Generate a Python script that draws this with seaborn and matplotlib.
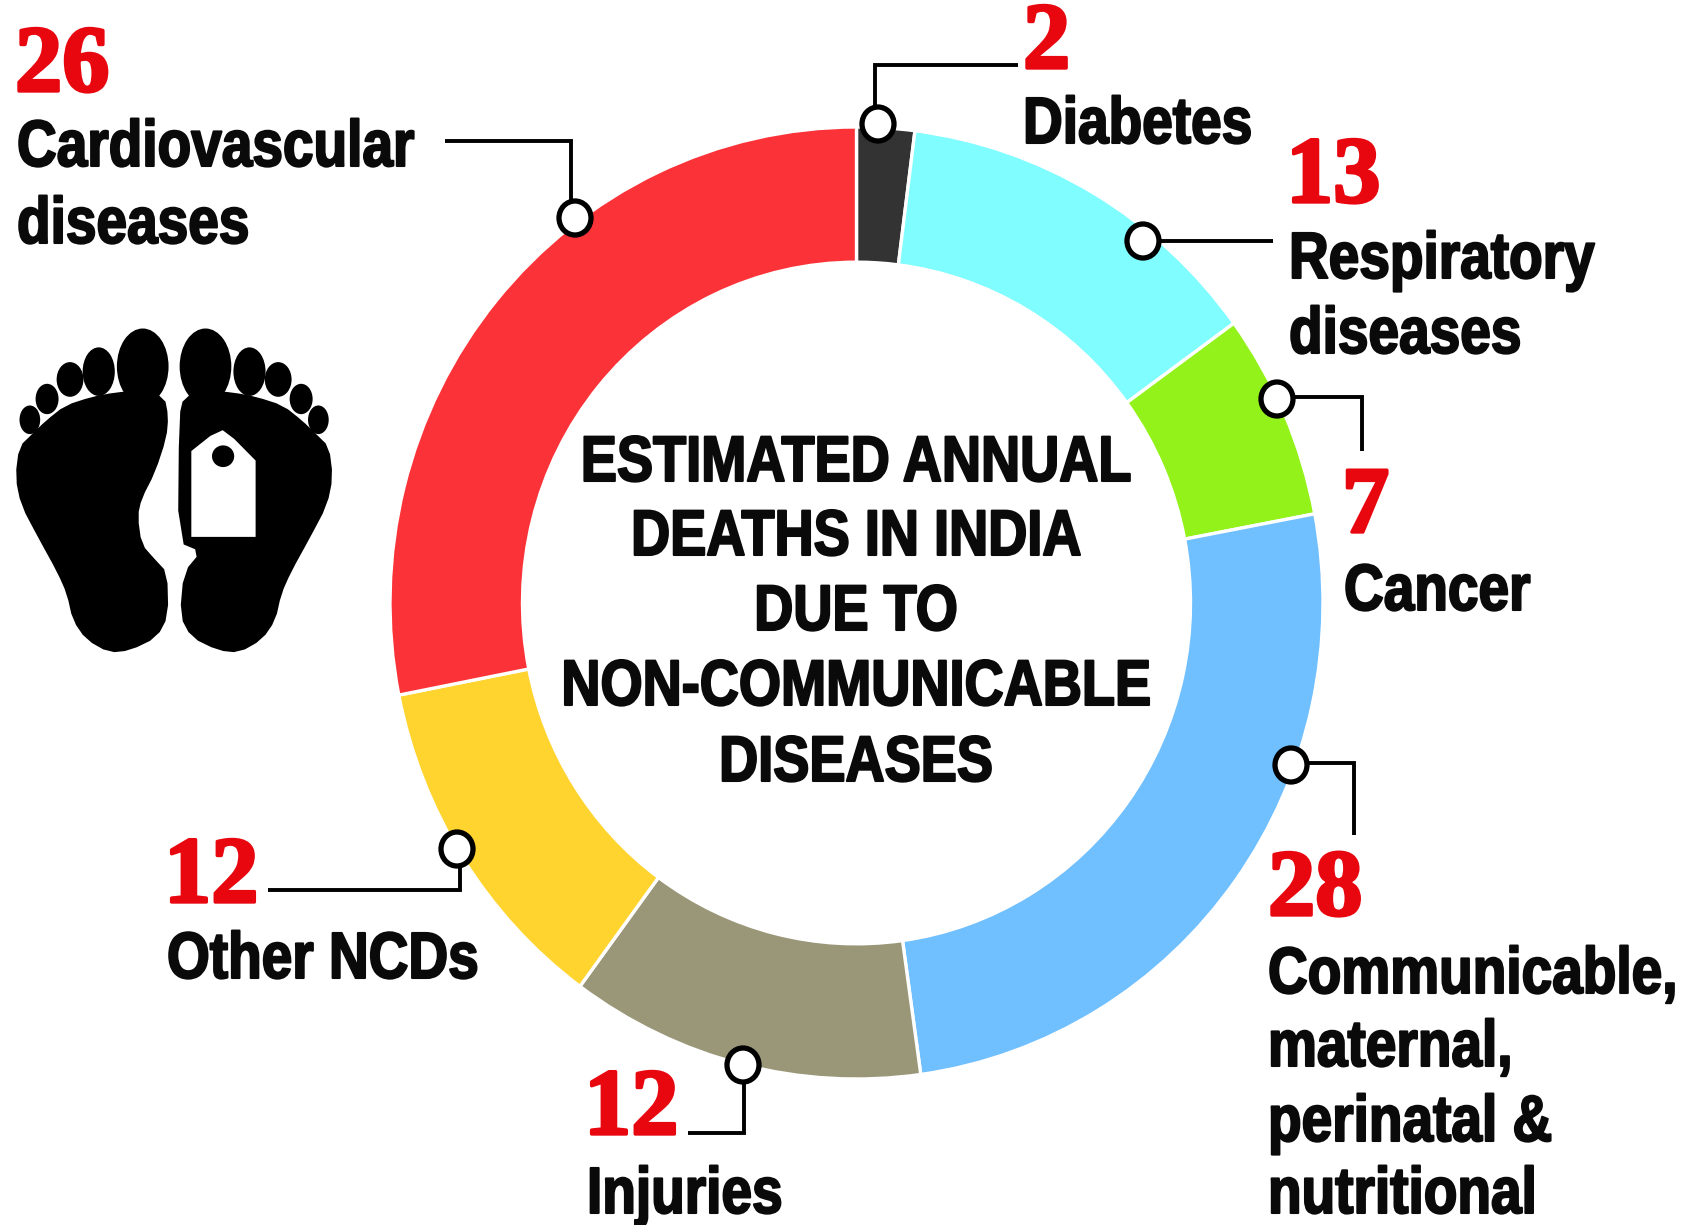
import numpy as np
import matplotlib
matplotlib.use("Agg")
import matplotlib.pyplot as plt
import matplotlib.patheffects as pe
from matplotlib.patches import Ellipse, Polygon
from matplotlib.transforms import Affine2D
import seaborn as sns

# printed values and their labels
categories = ["Diabetes", "Respiratory\ndiseases", "Cancer",
              "Communicable,\nmaternal,\nperinatal &\nnutritional",
              "Injuries", "Other NCDs", "Cardiovascular\ndiseases"]
printed_values = [2, 13, 7, 28, 12, 12, 26]
# sizes of the arcs as actually drawn in the ring
arc_shares = [2.0, 13.0, 7.0, 25.8, 12.3, 11.8, 28.1]
ring_colors = ["#333333", "#80FDFF", "#92F219", "#70BFFF", "#9A9779", "#FFD42F", "#FB3338"]
center_lines = ["ESTIMATED ANNUAL", "DEATHS IN INDIA", "DUE TO",
                "NON-COMMUNICABLE", "DISEASES"]

W, H = 1689, 1225
sns.set_theme(style="white")
plt.rcParams["font.family"] = ["Liberation Sans", "DejaVu Sans"]
fig = plt.figure(figsize=(W / 100, H / 100), dpi=100, facecolor="white")

# ring
L, R, T, B = 390, 1323, 127, 1079
ax = fig.add_axes([L / W, 1 - B / H, (R - L) / W, (B - T) / H])
ax.pie(arc_shares, colors=sns.color_palette(ring_colors), startangle=90, counterclock=False,
       radius=1, wedgeprops=dict(width=0.284, edgecolor="white", linewidth=2.4))
ax.set_aspect("auto")
ax.set_xlim(-1, 1)
ax.set_ylim(-1, 1)
ax.axis("off")

# overlay in pixel space for the annotations
ov = fig.add_axes([0, 0, 1, 1], facecolor="none")
ov.set_xlim(0, W)
ov.set_ylim(H, 0)
ov.axis("off")


class TallStroke(pe.AbstractPathEffect):
    """Draws glyphs stretched upward from the baseline, giving a condensed look."""

    def __init__(self, stretch, lw, color):
        super().__init__()
        self.stretch, self.lw, self.color = stretch, lw, color

    def draw_path(self, renderer, gc, tpath, affine, rgbFace):
        gc0 = renderer.new_gc()
        gc0.copy_properties(gc)
        gc0.set_linewidth(self.lw)
        gc0.set_foreground(self.color)
        renderer.draw_path(gc0, tpath, Affine2D().scale(1, self.stretch) + affine, rgbFace)
        gc0.restore()


RED = "#E8060F"
INK = "#0a0a0a"
num_fx = [pe.withStroke(linewidth=2.4, foreground=RED)]
lab_fx = [TallStroke(1.19, 1.5, INK)]


def number(x, y, s):
    ov.text(x, y, s, color=RED, fontsize=68, fontweight="bold", family="Liberation Serif",
            va="baseline", ha="left", path_effects=num_fx)


def label(x, y, s):
    ov.text(x, y, s, color=INK, fontsize=39.6, fontweight="bold",
            va="baseline", ha="left", path_effects=lab_fx)


# number x, number baseline, label x, one baseline per label line
placements = [
    (1023, 68, 1023, [143]),
    (1286, 202, 1289, [278, 353]),
    (1342, 532, 1344, [610]),
    (1268, 915, 1268, [993, 1066, 1141, 1213]),
    (584, 1134, 587, [1213]),
    (164, 902, 167, [978]),
    (15, 91, 17, [166, 243]),
]
for cat, val, (nx, ny, lx, bases) in zip(categories, printed_values, placements):
    number(nx, ny, str(val))
    for line, by in zip(cat.split("\n"), bases):
        label(lx, by, line)

for line, by in zip(center_lines, [481, 555, 630, 705, 781]):
    ov.text(856, by, line, color=INK, fontsize=39, fontweight="bold", ha="center",
            va="baseline", path_effects=lab_fx)

# leader lines with ring markers
leaders = [
    ([1018, 875, 875], [65, 65, 124], (878, 124)),
    ([1273, 1143], [241, 241], (1143, 241)),
    ([1362, 1362, 1277], [451, 397, 397], (1277, 399)),
    ([1354, 1354, 1291], [835, 763, 763], (1291, 765)),
    ([688, 744, 744], [1133, 1133, 1065], (743, 1065)),
    ([268, 460, 460], [890, 890, 849], (457, 849)),
    ([445, 571, 571], [141, 141, 218], (575, 218)),
]
for xs, ys, (cx, cy) in leaders:
    ov.plot(xs, ys, color="black", lw=2.8, solid_joinstyle="miter", solid_capstyle="butt", zorder=3)
    ov.add_patch(Ellipse((cx, cy), 32, 34, facecolor="white", edgecolor="black", lw=3.8, zorder=4))

# footprints icon
SX, SY = 600 / 1568, 680 / 1568


def smooth(pts, n=1):
    p = np.asarray(pts, float)
    for _ in range(n):
        q = np.roll(p, -1, axis=0)
        p = np.column_stack([0.75 * p + 0.25 * q, 0.25 * p + 0.75 * q]).reshape(-1, 2)
    return p * [SX, SY]


left_sole = [(430, 915), (440, 960), (435, 1010), (405, 1090), (370, 1150), (360, 1190), (370, 1255),
             (405, 1290), (437, 1320), (440, 1420), (410, 1470), (340, 1500), (285, 1505), (225, 1475),
             (190, 1430), (175, 1370), (150, 1320), (100, 1240), (55, 1165), (40, 1100), (50, 1030),
             (85, 1000), (120, 970), (170, 935), (240, 915), (300, 905), (370, 900)]
right_sole = [(480, 915), (468, 960), (465, 1250), (525, 1272), (480, 1320), (470, 1420), (500, 1470),
              (570, 1500), (625, 1505), (685, 1475), (720, 1430), (735, 1370), (760, 1320), (810, 1240),
              (855, 1165), (870, 1100), (860, 1030), (825, 1000), (790, 970), (740, 935), (670, 915),
              (610, 905), (540, 900)]
tag = [(500, 1238), (668, 1238), (668, 1062), (612, 1012), (582, 992), (550, 1005), (500, 1040)]
for foot in (left_sole, right_sole):
    ov.add_patch(Polygon(smooth(foot), closed=True, fc="black", ec="none", zorder=2))
ov.add_patch(Polygon(np.asarray(tag, float) * [SX, SY], closed=True, fc="white", ec="none", zorder=3))
ov.add_patch(Ellipse((583 * SX, 1052 * SY), 58 * SX, 50 * SY, fc="black", ec="none", zorder=4))
left_toes = [(373, 845, 135, 175), (258, 857, 84, 112), (183, 875, 70, 80), (123, 920, 60, 70), (78, 968, 54, 66)]
for x, y, w, h in left_toes:
    ov.add_patch(Ellipse((x * SX, y * SY), w * SX, h * SY, fc="black", ec="none", zorder=2))
    ov.add_patch(Ellipse(((910 - x) * SX, y * SY), w * SX, h * SY, fc="black", ec="none", zorder=2))

fig.savefig("out.png", dpi=100, facecolor="white")
